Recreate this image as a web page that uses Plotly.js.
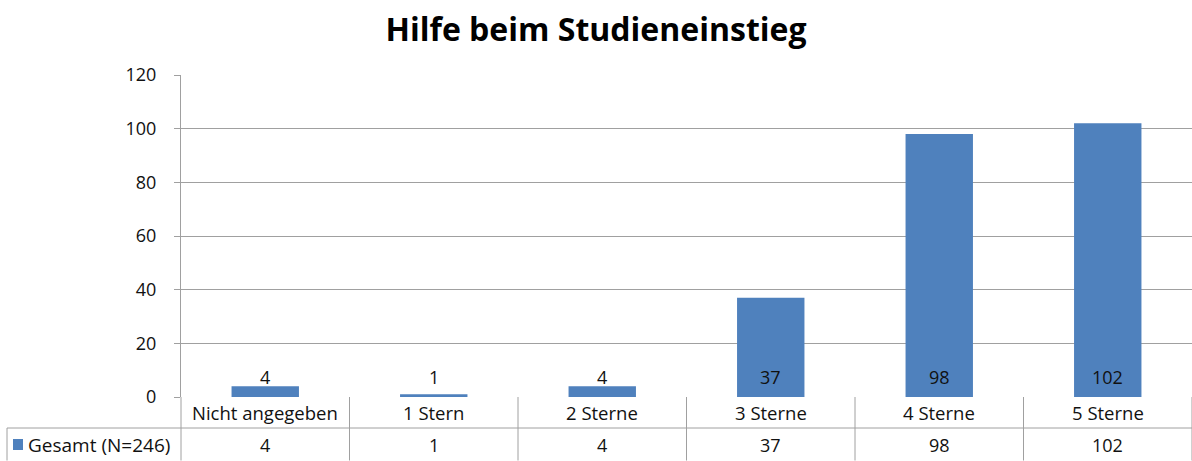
<!DOCTYPE html>
<html>
<head>
<meta charset="utf-8">
<script src="https://cdn.plot.ly/plotly-3.0.1.min.js"></script>
<style>html,body{margin:0;padding:0;background:#fff;}#chart{width:1192px;height:461px;}</style>
</head>
<body>
<div id="chart"></div>
<script>
const categories = ["Nicht angegeben", "1 Stern", "2 Sterne", "3 Sterne", "4 Sterne", "5 Sterne"];
const values = [4, 1, 4, 37, 98, 102];
const seriesName = "Gesamt (N=246)";
const yTicks = [0, 20, 40, 60, 80, 100, 120];

const W = 1192, H = 461;
const mL = 181, mR = 0, mT = 75, mB = 64;
const plotW = W - mL - mR, plotH = H - mT - mB;
const px2x = px => (px - mL) / plotW;
const py2y = py => (H - mB - py) / plotH;

const barColor = '#4f81bd';
const lineColor = '#a0a0a0';
const font = 'Open Sans, Liberation Sans, Arial, sans-serif';
const textColor = '#111';

const shapes = [];
const annotations = [];

const rowMid = py2y(428), rowBot = py2y(460.5);
shapes.push({type:'line', xref:'paper', yref:'paper', x0:px2x(7), x1:1, y0:rowMid, y1:rowMid, line:{color:lineColor, width:1}});
shapes.push({type:'line', xref:'paper', yref:'paper', x0:px2x(7), x1:px2x(7), y0:rowMid, y1:rowBot, line:{color:lineColor, width:1}});
shapes.push({type:'line', xref:'paper', yref:'paper', x0:0, x1:0, y0:0, y1:rowBot, line:{color:lineColor, width:1}});
for (let i = 0; i < categories.length; i++) {
  shapes.push({type:'line', xref:'x', yref:'paper', x0:i + 0.5, x1:i + 0.5, y0:0, y1:rowBot, line:{color:lineColor, width:1}});
}
shapes.push({type:'rect', xref:'paper', yref:'paper', x0:px2x(13), x1:px2x(23), y0:py2y(450), y1:py2y(439), fillcolor:barColor, line:{width:0}});
annotations.push({xref:'paper', yref:'paper', x:px2x(26), y:py2y(445), text:seriesName, showarrow:false, xanchor:'left', yanchor:'middle', font:{family:font, size:19, color:textColor}});

categories.forEach((c, i) => {
  annotations.push({xref:'x', yref:'paper', x:c, y:py2y(412.5), text:c, showarrow:false, xanchor:'center', yanchor:'middle', font:{family:font, size:18.5, color:textColor}});
  annotations.push({xref:'x', yref:'paper', x:c, y:py2y(445), text:String(values[i]), showarrow:false, xanchor:'center', yanchor:'middle', font:{family:font, size:18, color:textColor}});
  annotations.push({xref:'x', yref:'y', x:c, y:0, yshift:20, text:String(values[i]), showarrow:false, xanchor:'center', yanchor:'middle', font:{family:font, size:18, color:textColor}});
});

const data = [{
  type:'bar', x:categories, y:values, name:seriesName,
  marker:{color:barColor}, width:0.4, hoverinfo:'x+y'
}];

const layout = {
  width:W, height:H,
  margin:{l:mL, r:mR, t:mT, b:mB, pad:0},
  paper_bgcolor:'#fff', plot_bgcolor:'#fff',
  title:{text:'<b>Hilfe beim Studieneinstieg</b>', x:0.5, xanchor:'center', y:0.935, yanchor:'middle', font:{family:font, size:32, color:'#000'}},
  showlegend:false,
  xaxis:{type:'category', showticklabels:false, showgrid:false, zeroline:false, showline:false, ticks:'', range:[-0.5, categories.length - 0.5], fixedrange:true},
  yaxis:{range:[0, 120], tickvals:yTicks, ticktext:yTicks.map(String), showgrid:true, gridcolor:lineColor, gridwidth:1, zeroline:false,
    showline:true, linecolor:lineColor, linewidth:1, ticks:'outside', ticklen:6, tickcolor:lineColor, tickfont:{family:font, size:18, color:textColor}, ticklabelstandoff:14, fixedrange:true},
  shapes:shapes, annotations:annotations
};

Plotly.newPlot('chart', data, layout, {displayModeBar:false, staticPlot:true});
</script>
</body>
</html>
